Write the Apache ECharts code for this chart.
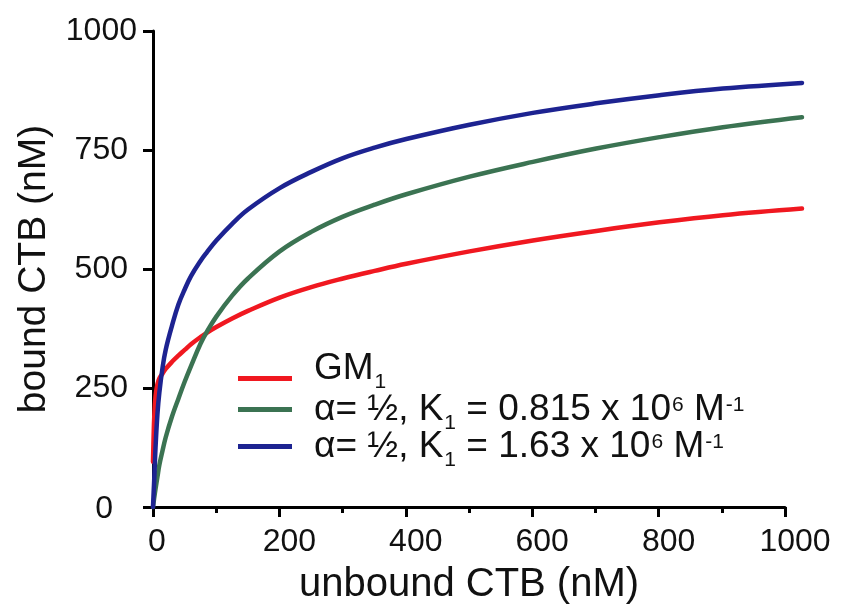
<!DOCTYPE html>
<html>
<head>
<meta charset="utf-8">
<script src="https://cdn.jsdelivr.net/npm/echarts@6/dist/echarts.min.js"></script>
<style>
  html, body { margin: 0; padding: 0; background: #fff; }
  #chart { width: 842px; height: 611px; }
</style>
</head>
<body>
<div id="chart"></div>
<script>
// unbound CTB (nM), shared x values for the three curves
const unbound = [0, 1, 2, 4, 7, 10, 15, 20, 30, 40, 50, 60, 75, 85, 100, 125, 150, 200, 250, 300, 350, 400, 500, 600, 700, 800, 900, 1025];
// bound CTB (nM)
const gm1 =        [95, 150, 190, 232, 258, 270, 280, 290, 305, 318, 330, 342, 357, 366, 378, 396, 412, 440, 462, 480, 496, 511, 537, 560, 580, 598, 613, 627];
const alphaLowK =  [0, 10, 20, 38, 63, 88, 118, 146, 190, 227, 263, 296, 343, 368, 400, 444, 480, 537, 578, 610, 635, 657, 694, 725, 753, 777, 798, 819];
const alphaHighK = [0, 30, 60, 125, 195, 240, 292, 330, 381, 425, 457, 485, 517, 535, 560, 595, 625, 670, 704, 733, 755, 773, 803, 828, 848, 865, 879, 891];

const seriesNames = ['GM1', 'α= ½, K1 = 0.815 x 10^6 M^-1', 'α= ½, K1 = 1.63 x 10^6 M^-1'];
const legendLabels = [
  'GM{sub|1}',
  'α= ½, K{sub|1} = 0.815 x 10{sup|6} M{sup|-1}',
  'α= ½, K{sub|1} = 1.63 x 10{sup|6} M{sup|-1}'
];
const legendTops = [345, 386, 423];
const colors = ['#f01820', '#3b7352', '#1d2391'];

const FONT = '"Liberation Sans", Arial, Helvetica, sans-serif';

const toPairs = ys => unbound.map((x, i) => [x, ys[i]]);

const chart = echarts.init(document.getElementById('chart'));

const axisLine = { show: true, lineStyle: { color: '#000', width: 3 } };
const axisTick = { show: true, length: 10, lineStyle: { color: '#000', width: 3 } };

const legendRich = {
  sub: { fontFamily: FONT, fontSize: 21, color: '#111', lineHeight: 16, verticalAlign: 'top', padding: [18, 0, 0, 1] },
  sup: { fontFamily: FONT, fontSize: 21, color: '#111', lineHeight: 16, verticalAlign: 'top', padding: [0, 0, 0, 1] }
};

const option = {
  animation: false,
  backgroundColor: '#fff',
  // grid 0 carries the visible axes (0..1000), grid 1 the curves, which run a bit past 1000
  grid: [
    { left: 153, right: 57, top: 31, bottom: 104 },
    { left: 153, right: 40, top: 31, bottom: 104 }
  ],
  legend: seriesNames.map((name, i) => ({
    orient: 'vertical',
    left: 233,
    top: legendTops[i],
    itemWidth: 54,
    itemHeight: 5,
    icon: 'rect',
    data: [name],
    selectedMode: false,
    formatter: () => legendLabels[i],
    textStyle: {
      fontFamily: FONT,
      fontSize: 37,
      lineHeight: 30,
      color: '#111',
      // the GM1 text sits a little above its line in the original
      padding: i === 0 ? [0, 0, 20, 17] : [0, 0, 0, 17],
      rich: legendRich
    }
  })),
  xAxis: [{
    type: 'value',
    gridIndex: 0,
    min: 0,
    max: 1000,
    interval: 200,
    name: 'unbound CTB (nM)',
    nameLocation: 'middle',
    nameGap: 58,
    nameTextStyle: { fontFamily: FONT, fontSize: 40, color: '#111' },
    axisLine: axisLine,
    axisTick: axisTick,
    minorTick: { show: true, splitNumber: 2, length: 6, lineStyle: { color: '#000', width: 3 } },
    splitLine: { show: false },
    axisLabel: {
      margin: 19,
      fontFamily: FONT,
      fontSize: 32,
      color: '#111',
      formatter: v => (v === 0 ? '{zero|0}' : '{n|' + v + '}'),
      rich: {
        zero: { fontFamily: FONT, fontSize: 32, color: '#111', padding: [0, 0, 0, 8] },
        n: { fontFamily: FONT, fontSize: 32, color: '#111', padding: [0, 0, 0, 20] }
      }
    }
  }, {
    type: 'value',
    gridIndex: 1,
    min: 0,
    max: 1025,
    show: false
  }],
  yAxis: [{
    type: 'value',
    gridIndex: 0,
    min: 0,
    max: 1000,
    interval: 250,
    name: 'bound CTB (nM)',
    nameLocation: 'middle',
    nameGap: 99,
    nameTextStyle: { fontFamily: FONT, fontSize: 39, color: '#111' },
    axisLine: axisLine,
    axisTick: axisTick,
    splitLine: { show: false },
    axisLabel: {
      margin: 16,
      fontFamily: FONT,
      fontSize: 32,
      color: '#111',
      formatter: v => (v === 0 ? '{zero|0}' : v === 1000 ? '{top|1000}' : '{n|' + v + '}'),
      rich: {
        zero: { fontFamily: FONT, fontSize: 32, color: '#111', padding: [4, 24, 0, 0] },
        top: { fontFamily: FONT, fontSize: 32, color: '#111' },
        n: { fontFamily: FONT, fontSize: 32, color: '#111', padding: [0, 9, 0, 0] }
      }
    }
  }, {
    type: 'value',
    gridIndex: 1,
    min: 0,
    max: 1000,
    show: false
  }],
  series: [gm1, alphaLowK, alphaHighK].map((ys, i) => ({
    name: seriesNames[i],
    type: 'line',
    xAxisIndex: 1,
    yAxisIndex: 1,
    data: toPairs(ys),
    showSymbol: false,
    smooth: 0.4,
    clip: false,
    color: colors[i],
    lineStyle: { color: colors[i], width: 4.5, cap: 'round' },
    z: 3 + i
  }))
};

chart.setOption(option);
</script>
</body>
</html>
